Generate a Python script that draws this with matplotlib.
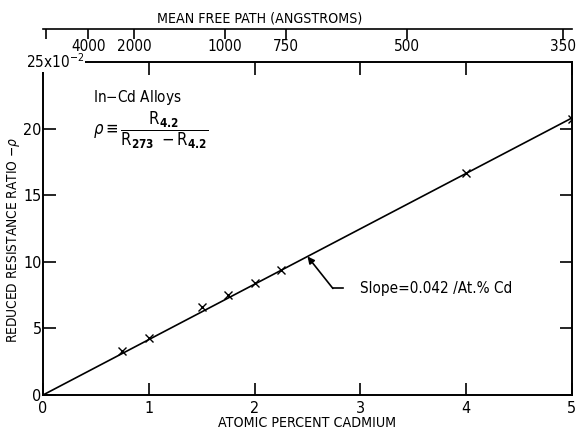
import matplotlib
matplotlib.use("Agg")
import matplotlib.pyplot as plt

# ---- data ----
cd_percent = [0.75, 1.0, 1.5, 1.75, 2.0, 2.25, 4.0, 5.0]
rho_1e2 = [3.3, 4.3, 6.6, 7.5, 8.4, 9.4, 16.7, 20.7]
fit_x = [0.0, 5.0]
fit_y = [0.0, 20.8]
x_ticks = [0, 1, 2, 3, 4, 5]
y_ticks = [0, 5, 10, 15, 20]
mfp_labels = [4000, 2000, 1000, 750, 500, 350]
mfp_const = 1720.0  # mean free path (A) x atomic percent

plt.rcParams['font.family'] = ['DejaVu Sans']
plt.rcParams['font.stretch'] = 'condensed'
plt.rcParams['mathtext.fontset'] = 'custom'
plt.rcParams['mathtext.rm'] = 'DejaVu Sans:stretch=condensed'
plt.rcParams['mathtext.it'] = 'DejaVu Sans:italic:stretch=condensed'
plt.rcParams['mathtext.bf'] = 'DejaVu Sans:bold:stretch=condensed'
plt.rcParams['mathtext.sf'] = 'DejaVu Sans:stretch=condensed'

fig = plt.figure(figsize=(5.77, 4.32), dpi=100)
L, R = 43 / 577, 572 / 577
B, T = (432 - 395) / 432, (432 - 62) / 432
ax = fig.add_axes([L, B, R - L, T - B])

ax.plot(fit_x, fit_y, color='black', lw=1.2)
ax.plot(cd_percent, rho_1e2, linestyle='none', marker='x', color='black',
        markersize=6, markeredgewidth=1.0)

ax.set_xlim(0, 5)
ax.set_ylim(0, 25)
ax.set_xticks(x_ticks)
ax.set_yticks(y_ticks)
ax.set_xticklabels([str(v) for v in x_ticks])
ax.set_yticklabels([str(v) for v in y_ticks])
ax.tick_params(direction='in', length=9, width=1.2, top=True, right=True,
               labelsize=11.5)
ax.tick_params(axis='y', pad=1)
ax.tick_params(axis='x', pad=4)
for s in ax.spines.values():
    s.set_linewidth(1.4)

ax.set_xlabel('ATOMIC PERCENT CADMIUM', fontsize=10.2, labelpad=0)
ax.set_ylabel('REDUCED RESISTANCE RATIO $-\\rho$', fontsize=9.8)
ax.yaxis.set_label_coords(-0.040, 0.465)

fig.text(26 / 577, (432 - 68) / 432, r'25x10$^{-2}$', ha='left', va='baseline',
         fontsize=11, zorder=10,
         bbox=dict(facecolor='white', edgecolor='none', pad=0.8))

# texts
ax.text(0.475, 22.3, 'In$-$Cd Alloys', fontsize=11, va='center')
ax.text(0.475, 19.9,
        r'$\rho \equiv \dfrac{\mathrm{R}_{\mathbf{4.2}}}{\mathrm{R}_{\mathbf{273}}\ -\mathrm{R}_{\mathbf{4.2}}}$',
        fontsize=12, va='center')

# annotation
tip = (2.5, 10.4)
corner = (2.74, 8.0)
end = (2.84, 8.0)
ax.plot([corner[0], end[0]], [corner[1], end[1]], color='black', lw=1.2)
ax.annotate('', xy=tip, xytext=corner,
            arrowprops=dict(arrowstyle='-|>', color='black', lw=1.2,
                            mutation_scale=10, shrinkA=0, shrinkB=0))
ax.text(3.0, 8.0, 'Slope=0.042 /At.% Cd', fontsize=11, va='center')

# top mean free path axis
ytop = (432 - 29) / 432
ax2 = fig.add_axes([L, ytop, R - L, 0.0001])
ax2.set_xlim(0, 5)
ax2.set_ylim(0, 1)
for k in ['top', 'left', 'right']:
    ax2.spines[k].set_visible(False)
ax2.spines['bottom'].set_linewidth(1.2)
ax2.set_yticks([])
pos = [0.03] + [mfp_const / v for v in mfp_labels]
ax2.set_xticks(pos)
ax2.set_xticklabels([''] + [str(v) for v in mfp_labels])
ax2.tick_params(axis='x', direction='out', length=7, width=1.2, labelsize=11, pad=0.5)
fig.text(260 / 577, (432 - 18) / 432, 'MEAN FREE PATH (ANGSTROMS)',
         ha='center', va='center', fontsize=10.2)

fig.savefig('out.png', dpi=100)
